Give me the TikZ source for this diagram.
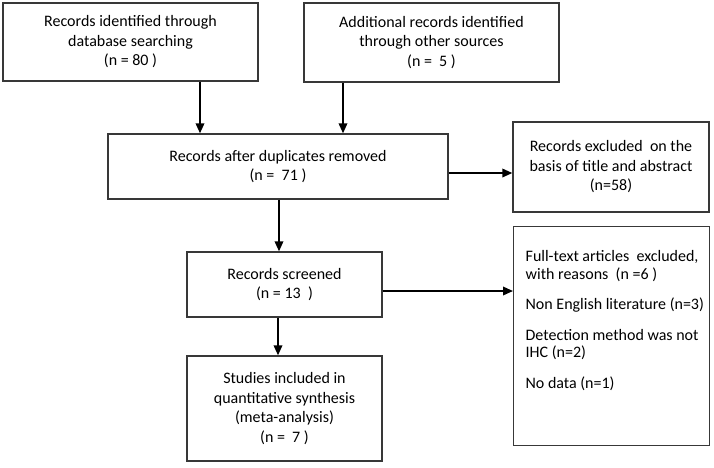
\documentclass[tikz,border=0pt]{standalone}
\usepackage{fontspec}
\setmainfont{Carlito}
\usetikzlibrary{arrows.meta}

\tikzset{
  recbox/.style={draw=black!78,line width=1.3pt,align=center,inner sep=0pt,
    font=\fontsize{16}{19.5}\selectfont},
  flow/.style={-{Triangle[length=10pt,width=8.5pt]},line width=1.8pt},
}

\begin{document}
\begin{tikzpicture}[x=1pt,y=-1pt]
\useasboundingbox (0,0) rectangle (714,467);
\node[recbox,minimum width=255pt,minimum height=78pt] (ident) at (130.5,42) {Records identified through\\database searching\\(n = 80 )};
\node[recbox,minimum width=255pt,minimum height=79pt] (extra) at (431.5,42.5) {Additional records identified\\through other sources\\(n = \ 5 )};
\node[recbox,minimum width=340pt,minimum height=65pt] (dup) at (278,166.5) {Records after duplicates removed\\(n = \ 71 )};
\node[recbox,minimum width=196pt,minimum height=90pt] (excl) at (611,167) {Records excluded \ on the\\basis of title and abstract\\(n=58)};
\node[recbox,minimum width=195pt,minimum height=65pt] (scr) at (284.5,284.5) {Records screened\\(n = 13 \ )};
\node[recbox,minimum width=195pt,minimum height=105pt] (incl) at (284.5,408.5) {Studies included in\\quantitative synthesis\\(meta-analysis)\\(n = \ 7 )};
\node[recbox,align=left,inner xsep=0pt,inner ysep=8pt,anchor=north west] (full) at (513,226) {%
  \begin{minipage}[t][203pt][t]{196pt}
  \raggedright\leftskip=12pt
  \vspace*{16pt}%
  \setlength{\parskip}{13pt}\setlength{\baselineskip}{17.5pt}%
  Full-text articles \ excluded,\\ with reasons \ (n =6 )\par
  Non English literature (n=3)\par
  Detection method was not\\ IHC (n=2)\par
  No data (n=1)
  \end{minipage}};

\draw[flow] ([xshift=69.5pt]ident.south) -- ([xshift=69.5pt]ident.south |- dup.north);
\draw[flow] ([xshift=-88.5pt]extra.south) -- ([xshift=-88.5pt]extra.south |- dup.north);
\draw[flow] ([yshift=-6.5pt]dup.east) -- ([yshift=-6.5pt]dup.east -| excl.west);
\draw[flow] ([xshift=1pt]dup.south) -- ([xshift=1pt]dup.south |- scr.north);
\draw[flow] ([yshift=-6.5pt]scr.east) -- ([yshift=-6.5pt]scr.east -| full.west);
\draw[flow] ([xshift=-6.5pt]scr.south) -- ([xshift=-6.5pt]scr.south |- incl.north);
\end{tikzpicture}
\end{document}
